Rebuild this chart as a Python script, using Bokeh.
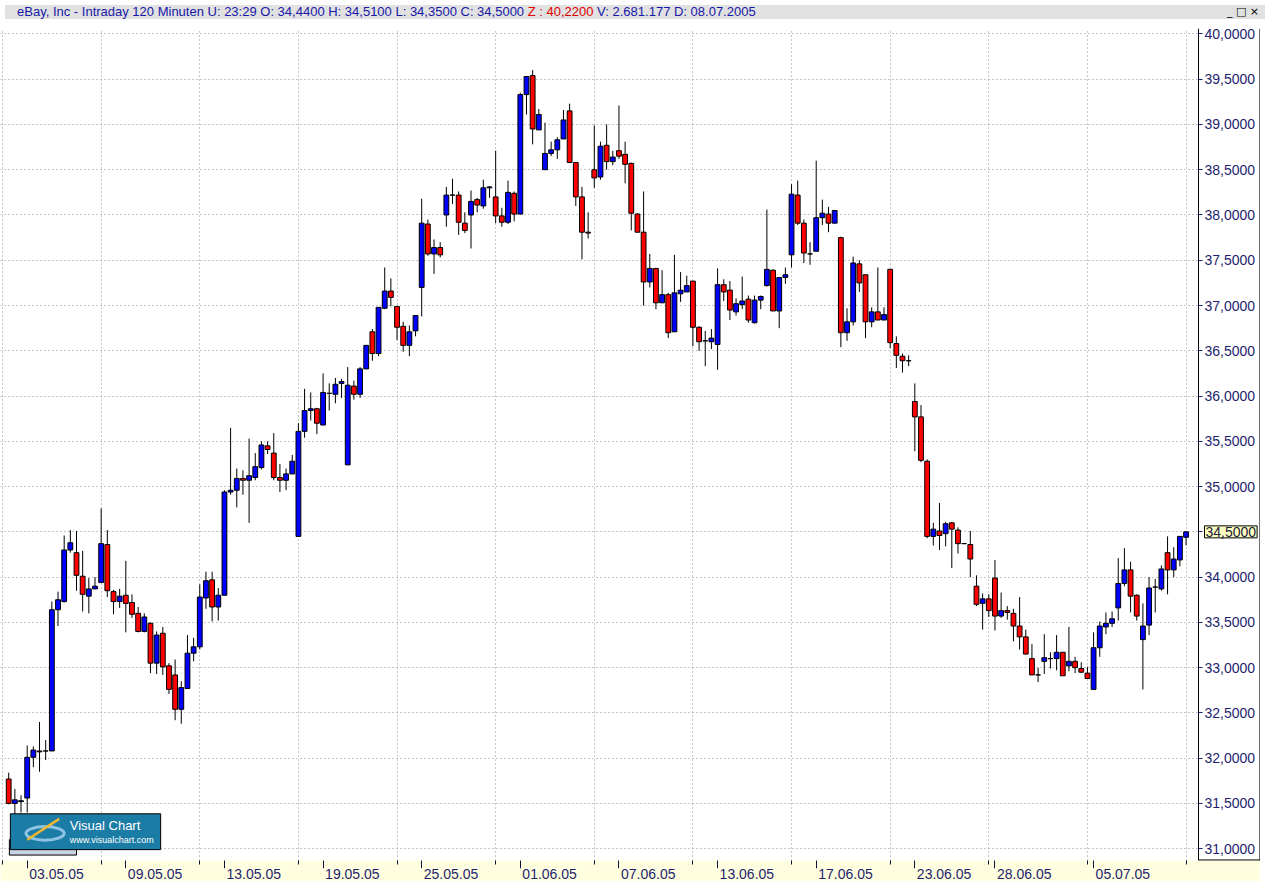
from bokeh.plotting import figure
from bokeh.models import (FixedTicker, CustomJSTickFormatter, Label, Div, Range1d,
                          ColumnDataSource, LinearAxis, BoxAnnotation, Span)
from bokeh.layouts import column
from bokeh.embed import file_html
from bokeh.resources import INLINE

# ---------------- data ----------------
opens = [31.77, 31.50, 31.52, 31.56, 32.01, 32.08, 32.08, 32.08, 33.64, 33.73,
         34.30, 34.27, 34.01, 33.79, 33.87, 33.94, 34.36, 33.84, 33.73, 33.80,
         33.72, 33.60, 33.40, 33.49, 33.05, 33.38, 33.02, 32.92, 32.54, 32.77,
         33.16, 33.23, 33.77, 33.97, 33.67, 33.80, 34.94, 34.96, 35.09, 35.07,
         35.10, 35.21, 35.45, 35.37, 35.10, 35.07, 35.14, 34.45, 35.61, 35.84,
         35.86, 35.68, 36.03, 36.02, 36.14, 35.24, 36.11, 36.02, 36.30, 36.71,
         36.47, 36.97, 37.16, 36.99, 36.77, 36.56, 36.72, 37.20, 37.90, 37.57,
         37.64, 38.00, 38.22, 38.22, 37.91, 38.00, 38.17, 38.10, 38.30, 38.20,
         37.99, 37.92, 38.24, 38.01, 39.33, 39.54, 38.94, 38.50, 38.68, 38.72,
         38.84, 39.15, 38.58, 38.20, 37.81, 38.50, 38.42, 38.77, 38.59, 38.71,
         38.67, 38.57, 38.01, 37.81, 37.26, 37.41, 37.03, 37.12, 36.71, 37.13,
         37.15, 37.27, 36.76, 36.61, 36.60, 36.57, 37.23, 37.17, 36.93, 37.01,
         37.07, 36.81, 37.06, 37.22, 37.39, 36.94, 37.31, 37.56, 38.22, 37.91,
         37.57, 37.60, 37.97, 38.01, 37.91, 37.75, 36.70, 36.82, 37.46, 37.34,
         36.82, 36.93, 36.84, 37.40, 36.58, 36.44, 36.39, 35.94, 35.77, 35.28,
         34.45, 34.51, 34.48, 34.60, 34.52, 34.37, 34.36, 33.90, 33.71, 33.76,
         33.99, 33.57, 33.63, 33.60, 33.46, 33.34, 33.10, 32.92, 33.07, 33.10,
         33.10, 33.17, 33.02, 33.07, 32.99, 32.94, 32.76, 33.22, 33.45, 33.49,
         33.66, 33.93, 34.08, 33.80, 33.31, 33.47, 33.89, 33.87, 34.27, 34.08,
         34.19, 34.44]
highs = [31.84, 31.66, 31.59, 32.14, 32.13, 32.40, 32.20, 33.73, 33.84, 34.46,
         34.52, 34.51, 34.29, 33.99, 34.00, 34.76, 34.52, 33.86, 33.87, 34.18,
         33.81, 33.67, 33.60, 33.50, 33.40, 33.45, 33.05, 33.09, 32.85, 33.36,
         33.33, 33.92, 34.06, 34.06, 33.88, 34.96, 35.65, 35.20, 35.18, 35.53,
         35.37, 35.50, 35.50, 35.59, 35.25, 35.20, 35.35, 35.70, 36.08, 36.04,
         35.87, 36.25, 36.14, 36.20, 36.19, 36.32, 36.17, 36.32, 36.56, 36.74,
         36.98, 37.42, 37.30, 36.99, 36.82, 36.78, 36.89, 38.18, 37.95, 37.73,
         37.70, 38.31, 38.40, 38.26, 38.03, 38.27, 38.19, 38.39, 38.32, 38.71,
         38.08, 38.38, 38.26, 39.35, 39.53, 39.60, 39.17, 39.02, 38.81, 38.86,
         39.16, 39.23, 38.58, 38.31, 38.03, 38.99, 38.81, 39.00, 38.71, 39.21,
         38.81, 38.58, 38.02, 38.26, 37.57, 37.41, 37.39, 37.14, 37.56, 37.37,
         37.33, 37.27, 36.77, 36.72, 36.74, 37.41, 37.29, 37.27, 37.08, 37.32,
         37.11, 37.11, 37.11, 38.06, 37.40, 37.31, 37.42, 38.34, 38.38, 37.95,
         37.70, 38.60, 38.17, 38.09, 38.05, 37.76, 36.97, 37.54, 37.50, 37.34,
         36.98, 37.42, 36.98, 37.40, 36.66, 36.47, 36.45, 36.14, 35.90, 35.30,
         34.60, 34.82, 34.61, 34.61, 34.55, 34.37, 34.51, 34.02, 33.82, 33.81,
         34.19, 33.83, 33.68, 33.65, 33.78, 33.42, 33.26, 33.00, 33.37, 33.17,
         33.36, 33.17, 33.45, 33.12, 33.06, 33.01, 33.39, 33.51, 33.61, 33.62,
         34.21, 34.32, 34.17, 33.81, 33.71, 34.00, 33.98, 34.13, 34.45, 34.33,
         34.45, 34.51]
lows = [31.49, 31.38, 31.40, 31.40, 31.90, 31.85, 31.98, 32.08, 33.46, 33.72,
        34.27, 33.85, 33.62, 33.60, 33.87, 33.94, 33.78, 33.59, 33.66, 33.39,
        33.55, 33.39, 33.39, 32.94, 32.93, 32.92, 32.71, 32.42, 32.38, 32.77,
        33.07, 33.20, 33.65, 33.51, 33.52, 33.80, 34.91, 34.77, 34.91, 34.60,
        35.07, 35.19, 35.36, 35.07, 34.94, 34.96, 35.14, 34.45, 35.54, 35.73,
        35.58, 35.68, 35.84, 35.92, 35.98, 35.24, 35.96, 35.98, 36.30, 36.39,
        36.44, 36.96, 36.99, 36.62, 36.49, 36.44, 36.66, 36.88, 37.55, 37.35,
        37.53, 37.87, 38.12, 37.78, 37.80, 37.63, 38.03, 38.07, 38.19, 37.91,
        37.87, 37.90, 37.93, 38.01, 39.11, 38.78, 38.94, 38.50, 38.65, 38.62,
        38.84, 38.58, 38.10, 37.51, 37.74, 38.30, 38.39, 38.50, 38.55, 38.62,
        38.35, 37.83, 37.81, 37.00, 37.20, 36.96, 37.03, 36.64, 36.71, 37.04,
        37.15, 36.55, 36.50, 36.33, 36.52, 36.29, 37.05, 36.84, 36.89, 36.96,
        36.81, 36.80, 36.96, 37.21, 36.94, 36.75, 37.24, 37.42, 37.89, 37.47,
        37.45, 37.60, 37.89, 37.81, 37.91, 36.54, 36.61, 36.78, 37.15, 36.64,
        36.76, 36.84, 36.84, 36.53, 36.31, 36.26, 36.33, 35.39, 35.27, 34.43,
        34.35, 34.30, 34.34, 34.10, 34.26, 34.37, 34.00, 33.68, 33.42, 33.56,
        33.41, 33.55, 33.53, 33.29, 33.20, 33.15, 32.92, 32.84, 32.93, 32.99,
        32.97, 32.91, 32.96, 32.94, 32.94, 32.88, 32.76, 33.12, 33.37, 33.45,
        33.52, 33.90, 33.61, 33.52, 32.76, 33.36, 33.61, 33.85, 33.81, 34.00,
        34.12, 34.35]
closes = [31.50, 31.54, 31.53, 32.01, 32.09, 32.07, 32.08, 33.64, 33.75, 34.30,
          34.38, 34.02, 33.81, 33.87, 33.90, 34.37, 33.85, 33.73, 33.79, 33.71,
          33.59, 33.40, 33.56, 33.05, 33.36, 33.01, 32.76, 32.54, 32.78, 33.16,
          33.23, 33.78, 33.96, 33.67, 33.80, 34.94, 34.96, 35.09, 35.07, 35.12,
          35.22, 35.46, 35.41, 35.10, 35.07, 35.14, 35.28, 35.61, 35.84, 35.86,
          35.70, 36.04, 36.03, 36.13, 36.16, 36.12, 36.02, 36.30, 36.56, 36.47,
          36.98, 37.16, 37.09, 36.76, 36.56, 36.71, 36.89, 37.91, 37.57, 37.64,
          37.56, 38.22, 38.22, 37.92, 37.83, 38.15, 38.11, 38.30, 38.31, 37.99,
          37.92, 38.25, 38.01, 39.33, 39.53, 38.95, 39.11, 38.68, 38.72, 38.83,
          39.05, 38.58, 38.20, 37.81, 37.80, 38.41, 38.76, 38.59, 38.64, 38.65,
          38.56, 38.02, 37.81, 37.26, 37.41, 37.03, 37.12, 36.70, 37.14, 37.17,
          37.22, 36.76, 36.60, 36.61, 36.64, 37.23, 37.15, 36.95, 37.02, 37.05,
          36.84, 37.06, 37.10, 37.40, 36.94, 37.31, 37.34, 38.23, 37.91, 37.58,
          37.57, 37.97, 38.02, 37.91, 38.05, 36.70, 36.82, 37.47, 37.25, 36.82,
          36.93, 36.84, 36.90, 36.59, 36.45, 36.39, 36.39, 35.77, 35.29, 34.45,
          34.53, 34.46, 34.59, 34.53, 34.37, 34.37, 34.20, 33.70, 33.76, 33.63,
          33.57, 33.63, 33.61, 33.46, 33.34, 33.15, 32.92, 32.92, 33.11, 33.10,
          33.17, 32.91, 33.07, 33.00, 32.95, 32.88, 33.22, 33.46, 33.49, 33.54,
          33.93, 34.08, 33.79, 33.57, 33.46, 33.88, 33.89, 34.09, 34.08, 34.20,
          34.45, 34.50]

date_tick_bars = [3, 19, 35, 51, 67, 83, 99, 115, 131, 147, 160, 176]
date_tick_labels = ["03.05.05", "09.05.05", "13.05.05", "19.05.05", "25.05.05",
                    "01.06.05", "07.06.05", "13.06.05", "17.06.05", "23.06.05",
                    "28.06.05", "05.07.05"]
grid_bars = [-1, 15, 31, 47, 63, 79, 95, 111, 127, 143, 159, 175, 191]
price_ticks = [31.0, 31.5, 32.0, 32.5, 33.0, 33.5, 34.0, 34.5, 35.0, 35.5,
               36.0, 36.5, 37.0, 37.5, 38.0, 38.5, 39.0, 39.5, 40.0]

title_name = "eBay, Inc - Intraday 120 Minuten"
update_time = "23:29"
z_value = 40.22
volume_text = "2.681.177"
date_text = "08.07.2005"

# ---------------- style / geometry ----------------
UP = "#0000FF"
DOWN = "#FF0000"
NAVY = "#1E1E6E"
FONT = "Liberation Sans"
LABEL_SHIFT = 4.75      # date labels start just right of their tall tick (bar units)
W, H = 1260, 857
AXIS_W = 62             # width of the price-axis panel, px
X_START, AXIS_X = -1.33, 193.02
X_END = X_START + (AXIS_X - X_START) * W / (W - AXIS_W)
Y_START, Y_END = 30.87, 40.06


def fmt(v):
    return f"{v:.4f}".replace(".", ",")


def try_set(obj, **kw):
    for k, v in kw.items():
        try:
            setattr(obj, k, v)
        except Exception:
            pass


n = len(opens)
bars = list(range(n))
src = ColumnDataSource(dict(
    x=bars, o=opens, h=highs, l=lows, c=closes,
    top=[max(o, c) for o, c in zip(opens, closes)],
    bottom=[min(o, c) for o, c in zip(opens, closes)],
    color=[UP if c >= o else DOWN for o, c in zip(opens, closes)],
))

p = figure(width=W, height=H,
           x_range=Range1d(X_START, X_END), y_range=Range1d(Y_START, Y_END),
           y_axis_location="right", output_backend="svg", toolbar_location=None,
           min_border_left=0, min_border_top=4, min_border_right=0,
           min_border_bottom=21, background_fill_color="white",
           border_fill_color="white", outline_line_color=None)

# grid
p.xgrid.ticker = FixedTicker(ticks=grid_bars)
for g in (p.xgrid, p.ygrid):
    g.grid_line_color = "#8a8a8a"
    g.grid_line_dash = "1 3"
    g.grid_line_width = 1

# white price-axis panel (hides the grid to the right of the axis)
p.add_layout(BoxAnnotation(left=AXIS_X, fill_color="white", fill_alpha=1,
                           line_color=None, level="underlay"))

# candles
p.segment(x0="x", y0="l", x1="x", y1="h", source=src, line_color="black",
          line_width=1)
p.vbar(x="x", width=0.78, top="top", bottom="bottom", source=src,
       fill_color="color", line_color="black", line_width=1)

# y axis (right), drawn at the panel edge
yax = p.yaxis[0]
yax.fixed_location = AXIS_X
yax.ticker = FixedTicker(ticks=price_ticks)
yax.formatter = CustomJSTickFormatter(
    code="return tick.toFixed(4).replace('.', ',');")
yax.major_tick_out = 4
yax.major_tick_in = 0
yax.minor_tick_line_color = None
yax.major_tick_line_color = NAVY
yax.axis_line_color = "black"
yax.major_label_text_color = NAVY
yax.major_label_text_font = FONT
yax.major_label_text_font_size = "14px"
yax.major_label_standoff = 2

# panel frame lines (right edge, bottom edge)
p.add_layout(Span(location=X_END - 0.09, dimension="height", line_color="black",
                  line_width=1))
p.segment(x0=[AXIS_X], x1=[X_END], y0=[Y_START + 0.006], y1=[Y_START + 0.006],
          line_color="black", line_width=1, level="overlay")

# x axis, inner part: tall ticks at each date, short ticks at grid lines
xax = p.xaxis[0]
xax.ticker = FixedTicker(ticks=date_tick_bars, minor_ticks=grid_bars)
xax.formatter = CustomJSTickFormatter(code="return '';")
xax.major_label_text_font_size = "1px"
xax.major_label_standoff = 0
xax.major_tick_out = 8
xax.major_tick_in = 0
xax.minor_tick_out = 4
xax.minor_tick_in = 0
xax.major_tick_line_color = "#101040"
xax.minor_tick_line_color = "#101040"
xax.axis_line_color = None
try_set(xax, background_fill_color="#FFFFE0")

# x axis, outer part: the date labels
lab_ax = LinearAxis(
    ticker=FixedTicker(ticks=[b + LABEL_SHIFT for b in date_tick_bars], minor_ticks=[]),
    formatter=CustomJSTickFormatter(
        args=dict(bars=date_tick_bars, names=date_tick_labels, shift=LABEL_SHIFT),
        code="const i = bars.indexOf(Math.round(tick - shift));"
             "return i >= 0 ? names[i] : '';"),
    major_tick_line_color=None, minor_tick_line_color=None, axis_line_color=None,
    major_tick_out=0, major_tick_in=0, major_label_standoff=0,
    major_label_text_color=NAVY, major_label_text_font=FONT,
    major_label_text_font_size="14px")
try_set(lab_ax, background_fill_color="#FFFFE0")
p.add_layout(lab_ax, "below")

# last price marker on the axis
last_label = Label(x=AXIS_X, y=closes[-1], x_offset=6, text=fmt(closes[-1]),
                   text_baseline="middle", text_align="left", text_font=FONT,
                   text_font_size="14px", text_color="#202040",
                   background_fill_color="#FFFFC0", border_line_color="black",
                   border_line_width=1, level="overlay")
try_set(last_label, padding=1)
p.add_layout(last_label)

# Visual Chart logo (decoration, bottom-left)
p.quad(left=[0.11], right=[11.0], bottom=[30.93], top=[31.10],
       fill_color="#C9D3E6", line_color="black", line_width=1, level="overlay")
p.quad(left=[0.27], right=[24.65], bottom=[30.99], top=[31.386],
       fill_color="#1B7DA6", line_color="black", line_width=1, level="overlay")
p.ellipse(x=[5.9], y=[31.17], width=[6.2], height=[0.15], fill_color=None,
          line_color="#8FC3E6", line_width=3, level="overlay")
p.line(x=[3.0, 8.2], y=[31.10, 31.33], line_color="#F2B630", line_width=2.5,
       level="overlay")
p.add_layout(Label(x=9.9, y=31.255, text="Visual Chart", text_color="white",
                   text_font=FONT, text_font_size="13px", text_baseline="middle",
                   level="overlay"))
p.add_layout(Label(x=9.9, y=31.095, text="www.visualchart.com", text_color="white",
                   text_font=FONT, text_font_size="9px", text_baseline="middle",
                   level="overlay"))

# header bar
o, h, l, c = opens[-1], highs[-1], lows[-1], closes[-1]
blue_txt = (f"{title_name} U: {update_time} O: {fmt(o)} H: {fmt(h)} "
            f"L: {fmt(l)} C: {fmt(c)} ")
header = (
    '<div style="display:flex;justify-content:space-between;align-items:center;'
    'height:14px;padding-left:12px;padding-right:6px;box-sizing:border-box;width:1260px">'
    f'<span style="white-space:pre"><span style="color:#1818A8">{blue_txt}</span>'
    f'<span style="color:#E00000">Z : {fmt(z_value)}</span>'
    f'<span style="color:#1818A8"> V: {volume_text} D: {date_text}</span></span>'
    '<span style="color:#000;font-family:\'DejaVu Sans\';font-size:11px;'
    'white-space:pre">_ \u25a1 \u00d7</span></div>'
)
div = Div(text=header, width=W, height=14,
          styles={"background-color": "#E1E1E1", "font-family": FONT,
                  "font-size": "13px", "line-height": "14px",
                  "overflow": "hidden", "white-space": "nowrap"})

layout = column(div, p, spacing=0)
open("out.html", "w").write(file_html(layout, INLINE))
